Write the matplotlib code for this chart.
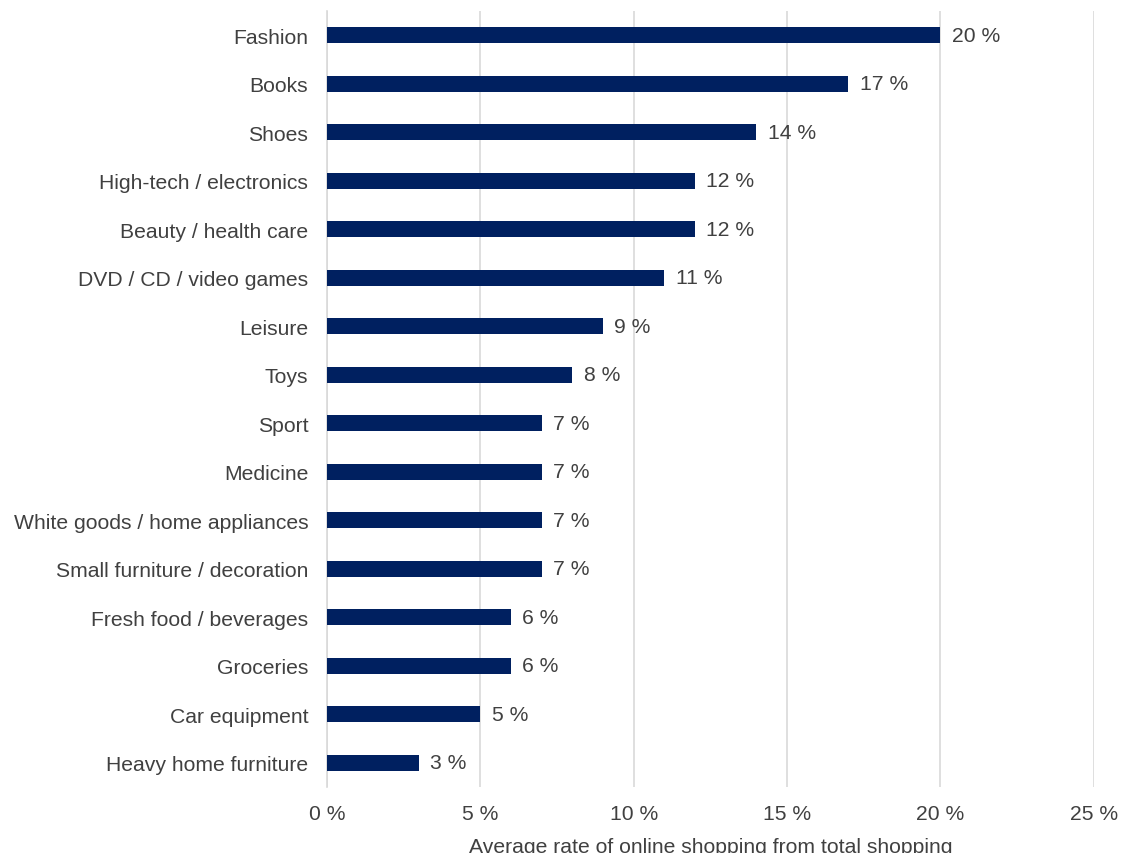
import matplotlib
matplotlib.use("Agg")
import matplotlib.pyplot as plt
from matplotlib.ticker import FuncFormatter

categories = [
    "Fashion", "Books", "Shoes", "High-tech / electronics", "Beauty / health care",
    "DVD / CD / video games", "Leisure", "Toys", "Sport", "Medicine",
    "White goods / home appliances", "Small furniture / decoration",
    "Fresh food / beverages", "Groceries", "Car equipment", "Heavy home furniture",
]
values = [20, 17, 14, 12, 12, 11, 9, 8, 7, 7, 7, 7, 6, 6, 5, 3]
x_ticks = [0, 5, 10, 15, 20, 25]
x_label = "Average rate of online shopping from total shopping"

plt.rcParams["font.family"] = ["Liberation Sans", "DejaVu Sans"]
text_color = "#404040"
bar_color = "#002060"
grid_color = "#d9d9d9"
fs = 15.2

fig = plt.figure(figsize=(11.3, 8.54), dpi=100)
ax = fig.add_axes([0.2894, 0.0773, 0.6786, 0.9087])

y = list(range(len(categories)))
ax.barh(y, values, height=0.33, color=bar_color, zorder=3)
ax.set_yticks(y)
ax.set_yticklabels(categories)
ax.set_ylim(len(categories) - 0.5, -0.5)

for yi, v in zip(y, values):
    ax.text(v + 0.37, yi, f"{v} %", va="center", ha="left",
            fontsize=fs, color=text_color, zorder=4)

ax.set_xlim(0, 25)
ax.set_xticks(x_ticks)
ax.xaxis.set_major_formatter(FuncFormatter(lambda v, p: f"{v:.0f} %"))
ax.grid(axis="x", color=grid_color, linewidth=1.2, zorder=0)
for s in ["top", "right", "bottom"]:
    ax.spines[s].set_visible(False)
ax.spines["left"].set_color(grid_color)
ax.spines["left"].set_linewidth(1.2)
ax.tick_params(axis="both", length=0, labelsize=fs, labelcolor=text_color)
ax.tick_params(axis="y", pad=13.5)
ax.tick_params(axis="x", pad=12)
ax.set_xlabel(x_label, fontsize=fs, color=text_color, labelpad=10)

fig.savefig("out.png", dpi=100, facecolor="white")
